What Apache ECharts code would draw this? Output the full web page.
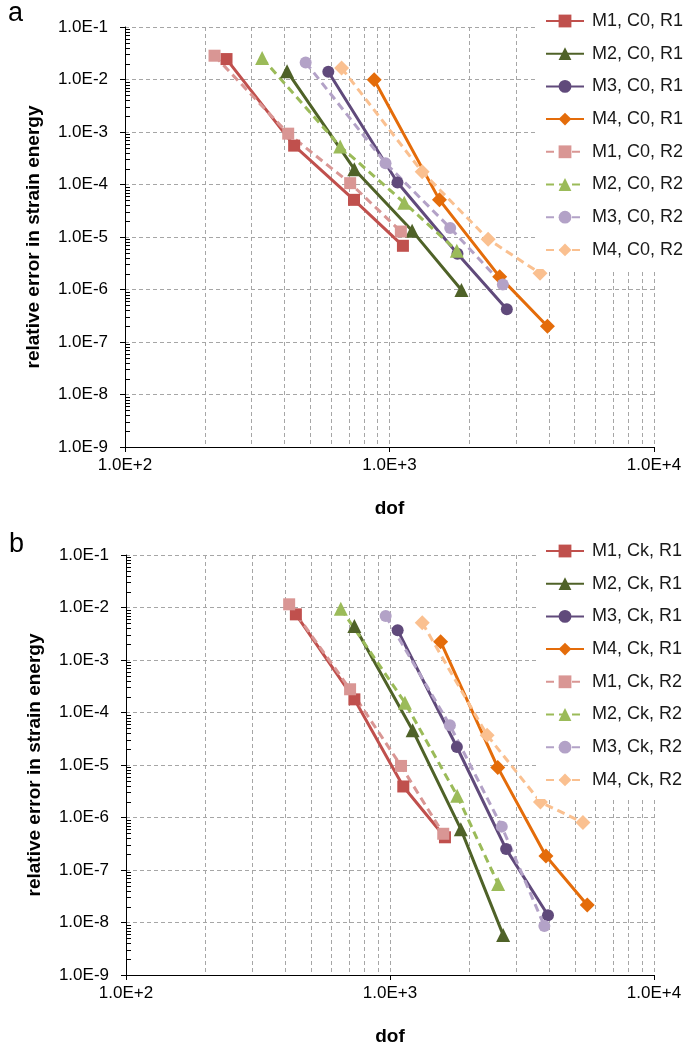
<!DOCTYPE html>
<html>
<head>
<meta charset="utf-8">
<script src="https://cdn.jsdelivr.net/npm/echarts@6/dist/echarts.min.js"></script>
<style>
  html, body { margin: 0; padding: 0; background: #fff; }
  #chart { width: 689px; height: 1047px; }
</style>
</head>
<body>
<div id="chart"></div>
<script>
// Convergence of the relative error in strain energy against dof.
// Each series is a list of [dof, relative error] pairs.

// Panel a: C0 continuity
const aM1R1 = [[242, 0.0245], [436, 5.5e-4], [734, 5.1e-5], [1124, 6.8e-6]];
const aM2R1 = [[410, 0.0143], [736, 1.96e-4], [1218, 1.31e-5], [1871, 9.8e-7]];
const aM3R1 = [[587, 0.0140], [1072, 1.09e-4], [1807, 4.8e-6], [2777, 4.2e-7]];
const aM4R1 = [[875, 0.0099], [1545, 5.1e-5], [2610, 1.74e-6], [3954, 2.0e-7]];
const aM1R2 = [[218, 0.0284], [414, 9.3e-4], [710, 1.06e-4], [1104, 1.27e-5]];
const aM2R2 = [[330, 0.0257], [651, 5.3e-4], [1137, 4.5e-5], [1797, 5.5e-6]];
const aM3R2 = [[482, 0.0211], [966, 2.55e-4], [1696, 1.49e-5], [2682, 1.24e-6]];
const aM4R2 = [[659, 0.0165], [1329, 1.74e-4], [2360, 9.1e-6], [3707, 2.04e-6]];

// Panel b: Ck continuity
const bM1R1 = [[440, 7.4e-3], [733, 1.78e-4], [1123, 3.9e-6], [1615, 4.2e-7]];
const bM2R1 = [[733, 4.45e-3], [1218, 4.6e-5], [1855, 6.0e-7], [2682, 5.8e-9]];
const bM3R1 = [[1069, 3.7e-3], [1792, 2.2e-5], [2753, 2.5e-7], [3967, 1.37e-8]];
const bM4R1 = [[1555, 2.23e-3], [2559, 9.0e-6], [3896, 1.85e-7], [5587, 2.16e-8]];
const bM1R2 = [[415, 0.0115], [706, 2.77e-4], [1101, 9.6e-6], [1591, 4.9e-7]];
const bM2R2 = [[651, 9.5e-3], [1139, 1.54e-4], [1797, 2.6e-6], [2568, 5.4e-8]];
const bM3R2 = [[963, 6.9e-3], [1686, 5.7e-5], [2651, 6.7e-7], [3843, 8.6e-9]];
const bM4R2 = [[1325, 5.1e-3], [2333, 3.7e-5], [3714, 1.97e-6], [5381, 8.0e-7]];

const namesA = ['M1, C0, R1', 'M2, C0, R1', 'M3, C0, R1', 'M4, C0, R1',
                'M1, C0, R2', 'M2, C0, R2', 'M3, C0, R2', 'M4, C0, R2'];
const namesB = ['M1, Ck, R1', 'M2, Ck, R1', 'M3, Ck, R1', 'M4, Ck, R1',
                'M1, Ck, R2', 'M2, Ck, R2', 'M3, Ck, R2', 'M4, Ck, R2'];

// Axis ranges and minor tick multipliers within each decade
const xRange = [100, 10000];
const yRange = [1e-9, 1e-1];
const minorMultipliers = [2, 3, 4, 5, 6, 7, 8, 9];
const xDecades = [100, 1000];
const yDecades = [1e-9, 1e-8, 1e-7, 1e-6, 1e-5, 1e-4, 1e-3, 1e-2];

const mesh = [
  { color1: '#C0504D', color2: '#D99694', symbol: 'rect', size: 12 },
  { color1: '#4F6228', color2: '#9BBB59', symbol: 'triangle', size: 14 },
  { color1: '#604A7B', color2: '#B3A2C7', symbol: 'circle', size: 12 },
  { color1: '#E46C0A', color2: '#FAC090', symbol: 'diamond', size: 15 }
];

const FONT = 'Liberation Sans, Arial, sans-serif';

function expLabel(v) {
  const e = Math.round(Math.log10(v));
  return '1.0E' + (e < 0 ? '-' : '+') + Math.abs(e);
}

// Minor grid: dashed vertical lines at 2..9 x decade, short ticks on the y axis
const minorData = [];
xDecades.forEach(d => minorMultipliers.forEach(m => minorData.push([d * m, 1e-5, 0])));
yDecades.forEach(d => minorMultipliers.forEach(m => minorData.push([1000, d * m, 1])));

function renderMinor(params, api) {
  const cs = params.coordSys;
  const p = api.coord([api.value(0), api.value(1)]);
  if (api.value(2) === 0) {
    const x = Math.round(p[0]) + 0.5;
    return {
      type: 'line', silent: true,
      shape: { x1: x, y1: cs.y, x2: x, y2: cs.y + cs.height },
      style: { stroke: '#a6a6a6', lineWidth: 1, lineDash: [4, 3] }
    };
  }
  const y = Math.round(p[1]) + 0.5;
  return {
    type: 'line', silent: true,
    shape: { x1: cs.x, y1: y, x2: cs.x + 5, y2: y },
    style: { stroke: '#000', lineWidth: 1 }
  };
}

function makeSeries(names, groups, idx) {
  const out = [];
  groups.forEach((data, i) => {
    const m = mesh[i % 4];
    const r2 = i >= 4;
    const color = r2 ? m.color2 : m.color1;
    out.push({
      name: names[i],
      type: 'line',
      xAxisIndex: idx, yAxisIndex: idx,
      data: data,
      symbol: m.symbol,
      symbolSize: m.size,
      showAllSymbol: true,
      color: color,
      lineStyle: { color: color, width: 3, type: r2 ? [8, 5] : 'solid' },
      itemStyle: { color: color },
      emphasis: { disabled: true },
      z: 3
    });
  });
  out.push({
    type: 'custom',
    xAxisIndex: idx, yAxisIndex: idx,
    renderItem: renderMinor,
    data: minorData,
    silent: true,
    z: 1
  });
  return out;
}

function xAxisCfg(idx) {
  return {
    type: 'log', logBase: 10, gridIndex: idx,
    min: xRange[0], max: xRange[1],
    name: 'dof', nameLocation: 'middle', nameGap: 52,
    nameTextStyle: { fontFamily: FONT, fontSize: 19, fontWeight: 'bold', color: '#000' },
    axisLine: { show: true, onZero: false, lineStyle: { color: '#000', width: 1 } },
    axisTick: { show: true, length: 5, lineStyle: { color: '#000' } },
    axisLabel: { formatter: expLabel, fontFamily: FONT, fontSize: 17, color: '#000', margin: 10,
                 showMinLabel: true, showMaxLabel: true },
    splitLine: { show: true, lineStyle: { color: '#a6a6a6', type: [4, 3], width: 1 } },
    minorTick: { show: false }, minorSplitLine: { show: false }
  };
}

function yAxisCfg(idx) {
  return {
    type: 'log', logBase: 10, gridIndex: idx,
    min: yRange[0], max: yRange[1],
    name: 'relative error in strain energy', nameLocation: 'middle', nameGap: 82,
    nameTextStyle: { fontFamily: FONT, fontSize: 19, fontWeight: 'bold', color: '#000' },
    axisLine: { show: true, onZero: false, lineStyle: { color: '#000', width: 1 } },
    axisTick: { show: true, length: 5, lineStyle: { color: '#000' } },
    axisLabel: { formatter: expLabel, fontFamily: FONT, fontSize: 17, color: '#000', margin: 17,
                 showMinLabel: true, showMaxLabel: true },
    splitLine: { show: true, lineStyle: { color: '#a6a6a6', type: [4, 3], width: 1 } },
    minorTick: { show: false }, minorSplitLine: { show: false }
  };
}

function legendCfg(names, top) {
  return {
    data: names,
    orient: 'vertical',
    left: 537, top: top,
    padding: [11, 4, 9, 8],
    itemWidth: 38, itemHeight: 16, itemGap: 12.7,
    backgroundColor: '#ffffff',
    selectedMode: false,
    textStyle: { fontFamily: FONT, fontSize: 18, lineHeight: 20, color: '#1a1a1a', padding: [0, 0, 0, 3] }
  };
}

const chart = echarts.init(document.getElementById('chart'), null, { renderer: 'canvas' });
chart.setOption({
  backgroundColor: '#ffffff',
  animation: false,
  grid: [
    { left: 125, top: 27, width: 529, height: 420 },
    { left: 126, top: 555, width: 528, height: 420 }
  ],
  xAxis: [xAxisCfg(0), xAxisCfg(1)],
  yAxis: [yAxisCfg(0), yAxisCfg(1)],
  legend: [legendCfg(namesA, 0), legendCfg(namesB, 530)],
  graphic: [
    { type: 'text', left: 8, top: 0, style: { text: 'a', fontFamily: FONT, fontSize: 27, fill: '#000' } },
    { type: 'text', left: 9, top: 531, style: { text: 'b', fontFamily: FONT, fontSize: 27, fill: '#000' } }
  ],
  series: [].concat(
    makeSeries(namesA, [aM1R1, aM2R1, aM3R1, aM4R1, aM1R2, aM2R2, aM3R2, aM4R2], 0),
    makeSeries(namesB, [bM1R1, bM2R1, bM3R1, bM4R1, bM1R2, bM2R2, bM3R2, bM4R2], 1)
  )
});
</script>
</body>
</html>
